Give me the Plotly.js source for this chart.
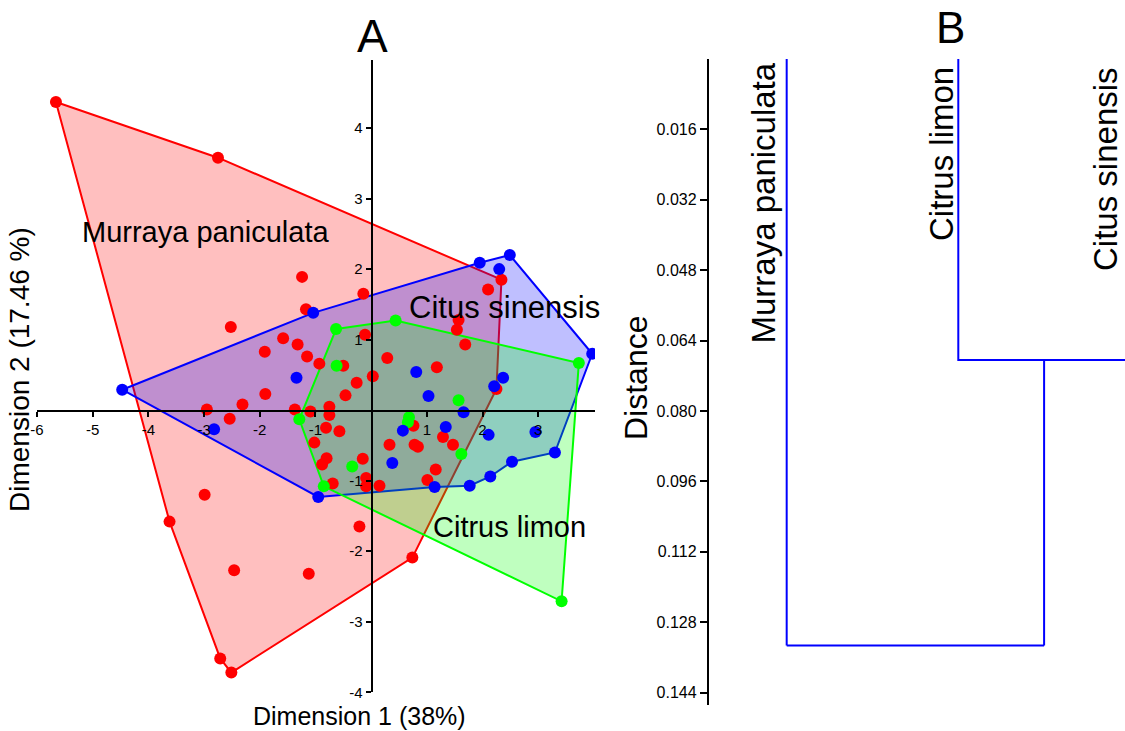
<!DOCTYPE html>
<html>
<head>
<meta charset="utf-8">
<script src="https://cdn.plot.ly/plotly-3.0.1.min.js"></script>
<style>html,body{margin:0;padding:0;background:#fff;}#chart{width:1125px;height:731px;}</style>
</head>
<body>
<div id="chart"></div>
<script>
// ---- Panel A data (Dimension 1, Dimension 2) ----
const murrayaX = [-5.66,-2.75,2.34,2.25,0.74,-2.51,-2.71,-3.62,
  -1.24,-1.17,-2.52,-0.14,-0.11,-1.58,-1.91,-1.32,-1.15,-0.93,-0.50,-2.95,-2.31,-1.90,-2.54,-1.37,-1.09,-0.75,-0.75,
  0.29,0.03,-0.26,-0.46,1.18,1.57,1.54,1.69,2.10,-0.81,-0.57,-1.02,-0.80,-0.88,-0.15,-0.09,-0.09,0.15,-0.69,0.33,0.76,0.78,0.84,1.29,1.47,1.16,1.01,
  -2.99,-2.46,-1.12,-0.21];
const murrayaY = [4.37,3.58,1.85,0.30,-2.09,-3.72,-3.52,-1.58,
  1.89,1.43,1.18,1.65,1.07,1.02,0.83,0.93,0.76,0.66,0.63,0.01,0.08,0.23,-0.12,0.01,-0.02,0.05,-0.07,
  0.74,0.48,0.39,0.21,0.61,1.28,1.14,0.93,1.71,-0.25,-0.30,-0.46,-0.68,-0.77,-0.69,-0.96,-1.08,-1.07,-1.04,-0.49,-0.22,-0.49,-0.52,-0.38,-0.49,-0.84,-0.99,
  -1.20,-2.27,-2.32,-1.65];
const murrayaHull = [0,1,2,3,4,5,6,7,0];

const sinensisX = [-4.47,-1.04,1.95,2.49,3.97,3.30,2.53,2.14,1.77,1.14,-0.95,
  2.30,-1.34,0.81,1.03,2.37,2.21,1.66,1.34,0.57,2.11,2.95,0.38,-2.82];
const sinensisY = [0.29,1.38,2.09,2.20,0.80,-0.60,-0.73,-0.94,-1.07,-1.09,-1.23,
  2.00,0.46,0.54,0.20,0.46,0.34,-0.03,-0.24,-0.29,-0.35,-0.31,-0.75,-0.27];
const sinensisHull = [0,1,2,3,4,5,6,7,8,9,10,0];

const limonX = [-0.63,0.44,3.73,3.42,-0.85,-1.29, -0.62,1.57,0.68,0.66,1.62,-0.34];
const limonY = [1.15,1.27,0.67,-2.71,-1.08,-0.13, 0.63,0.14,-0.10,-0.17,-0.62,-0.80];
const limonHull = [0,1,2,3,4,5,0];

const xTickVals = [-6,-5,-4,-3,-2,-1,1,2,3];
const yTickVals = [-4,-3,-2,-1,1,2,3,4];

// ---- Panel B data (dendrogram) ----
const leaves = ['Murraya paniculata','Citrus limon','Citus sinensis'];
const leafPos = [1,2,3];
const mergeLimonSinensis = 0.0684;
const mergeAll = 0.1333;
const distTicks = [0.016,0.032,0.048,0.064,0.080,0.096,0.112,0.128,0.144];

const FONT = 'Liberation Sans, Arial, sans-serif';
const W = 1125, H = 731;
const px = v => v / W;
const py = v => 1 - v / H;

function hullTrace(xs, ys, idx, line, fill) {
  return {
    x: idx.map(i => xs[i]), y: idx.map(i => ys[i]),
    type: 'scatter', mode: 'lines', fill: 'toself', fillcolor: fill,
    line: {color: line, width: 2}, hoverinfo: 'skip', showlegend: false,
    xaxis: 'x', yaxis: 'y'
  };
}
function pointTrace(xs, ys, color) {
  return {
    x: xs, y: ys, type: 'scatter', mode: 'markers',
    marker: {color: color, size: 12}, showlegend: false, xaxis: 'x', yaxis: 'y'
  };
}

// dendrogram segments
const midLS = (leafPos[1] + leafPos[2]) / 2;
const dX = [leafPos[0], leafPos[0], null,
            leafPos[1], leafPos[1], leafPos[2], leafPos[2], null,
            midLS, midLS, null,
            leafPos[0], midLS];
const dY = [0, mergeAll, null,
            0, mergeLimonSinensis, mergeLimonSinensis, 0, null,
            mergeLimonSinensis, mergeAll, null,
            mergeAll, mergeAll];

const data = [
  hullTrace(murrayaX, murrayaY, murrayaHull, '#ff0000', 'rgba(255,0,0,0.25)'),
  hullTrace(sinensisX, sinensisY, sinensisHull, '#0000ff', 'rgba(0,0,255,0.25)'),
  hullTrace(limonX, limonY, limonHull, '#00ff00', 'rgba(0,255,0,0.25)'),
  pointTrace(murrayaX, murrayaY, '#ff0000'),
  pointTrace(limonX, limonY, '#00ff00'),
  pointTrace(sinensisX, sinensisY, '#0000ff'),
  {x: dX, y: dY, type: 'scatter', mode: 'lines', line: {color: '#0000ff', width: 2},
   xaxis: 'x2', yaxis: 'y2', showlegend: false, hoverinfo: 'skip'}
];

const ann = (text, x, y, size, opts) => Object.assign({
  text: text, x: x, y: y, xref: 'paper', yref: 'paper', showarrow: false,
  xanchor: 'center', yanchor: 'middle', font: {family: FONT, size: size, color: '#000'}
}, opts || {});

const layout = {
  width: W, height: H,
  margin: {l: 0, r: 0, t: 0, b: 0},
  paper_bgcolor: '#fff', plot_bgcolor: 'rgba(0,0,0,0)',
  showlegend: false,
  font: {family: FONT, color: '#000'},
  xaxis: {
    domain: [px(37), px(595)], range: [-6, 4.02], anchor: 'free', position: py(410.5),
    showgrid: false, zeroline: false, showline: true, linecolor: '#000', linewidth: 2,
    ticks: 'outside', ticklen: 5, tickwidth: 2, tickcolor: '#000',
    tickvals: xTickVals, ticktext: xTickVals.map(String),
    tickfont: {family: FONT, size: 15, color: '#000'}
  },
  yaxis: {
    domain: [py(692.3), py(60)], range: [-4, 4.965], anchor: 'free', position: px(371.7),
    showgrid: false, zeroline: false, showline: true, linecolor: '#000', linewidth: 2,
    ticks: 'outside', ticklen: 5, tickwidth: 2, tickcolor: '#000',
    tickvals: yTickVals, ticktext: yTickVals.map(String),
    tickfont: {family: FONT, size: 15, color: '#000'}
  },
  xaxis2: {
    domain: [px(709.3), 1], range: [0.549, 2.9714], visible: false, anchor: 'y2'
  },
  yaxis2: {
    domain: [py(705), py(58.9)], range: [0.1468, 0], anchor: 'x2',
    showgrid: false, zeroline: false, showline: true, linecolor: '#000', linewidth: 2.5,
    ticks: 'outside', ticklen: 7, tickwidth: 2, tickcolor: '#000',
    tickvals: distTicks, tickformat: '.3f',
    tickfont: {family: FONT, size: 16, color: '#000'}
  },
  annotations: [
    ann('A', px(372.7), py(36), 46),
    ann('B', px(950), py(27), 44),
    ann('Dimension 1 (38%)', px(359), py(716), 25),
    ann('Dimension 2 (17.46 %)', px(19), py(370), 28, {textangle: -90}),
    ann('Distance', px(636), py(378), 32, {textangle: -90}),
    ann('Murraya paniculata', px(205), py(232), 29),
    ann('Citus sinensis', px(504), py(308), 31),
    ann('Citrus limon', px(509), py(527), 29),
    ann(leaves[0], px(763), py(60), 33, {textangle: -90, yanchor: 'top'}),
    ann(leaves[1], px(941), py(65), 33, {textangle: -90, yanchor: 'top'}),
    ann(leaves[2], px(1105), py(65), 33, {textangle: -90, yanchor: 'top'})
  ]
};

Plotly.newPlot('chart', data, layout, {displayModeBar: false, staticPlot: true});
</script>
</body>
</html>
